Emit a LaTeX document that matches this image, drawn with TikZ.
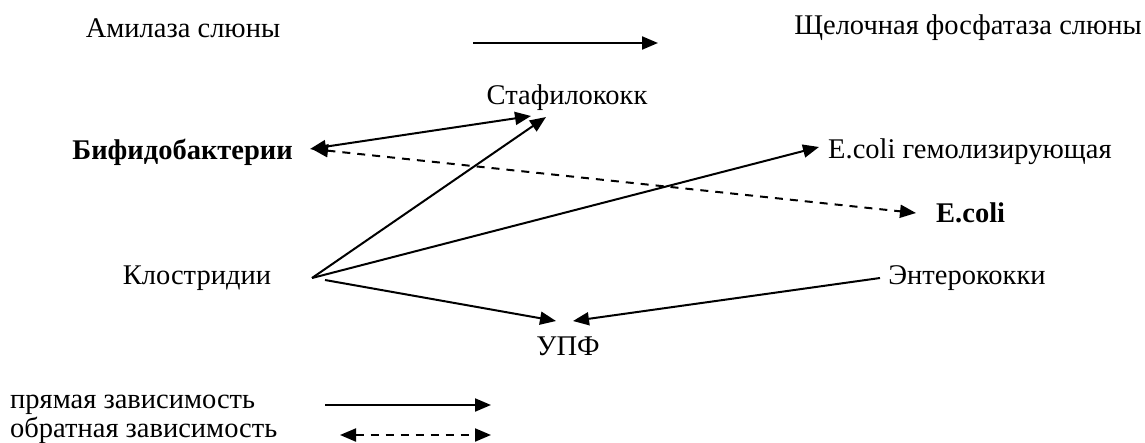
\documentclass[tikz,border=0pt]{standalone}
\usepackage{fontspec}
\setmainfont{Liberation Serif}
\usetikzlibrary{arrows.meta}
\begin{document}
\begin{tikzpicture}[x=1pt,y=-1pt,
  lbl/.style={font=\fontsize{28.5}{32}\selectfont, inner sep=0pt},
  blbl/.style={lbl, font=\fontsize{28.5}{32}\selectfont\bfseries},
  link/.style={line width=2pt, -{Triangle[length=16pt,width=13pt]}},
  twoway/.style={line width=2pt, {Triangle[length=16pt,width=13pt]}-{Triangle[length=16pt,width=13pt]}},
  inverse/.style={twoway, dash pattern=on 8pt off 7pt}]
\useasboundingbox (0,0) rectangle (1145,442);

% labels
\node[lbl] (amy) at (183,28) {Амилаза слюны};
\node[lbl, anchor=east] (alk) at (1142,28) {Щелочная фосфатаза слюны};
\node[lbl] (staph) at (567,98) {Стафилококк};
\node[blbl, anchor=east] (bifid) at (293,152) {Бифидобактерии};
\node[lbl, anchor=west] (ecolih) at (828,152) {E.coli гемолизирующая};
\node[blbl, anchor=west] (ecoli) at (936,213) {E.coli};
\node[lbl] (clos) at (197,278) {Клостридии};
\node[lbl] (entero) at (967,278) {Энтерококки};
\node[lbl] (upf) at (568,346) {УПФ};
\node[lbl, anchor=west] (ldirect) at (10,405) {прямая зависимость};
\node[lbl, anchor=west] (linverse) at (10,430) {обратная зависимость};

% connector end points
\coordinate (amyE) at (473,43);
\coordinate (alkW) at (658,43);
\coordinate (bifE) at (310,149);
\coordinate (bifE2) at (312,149);
\coordinate (staphSW) at (531,116);
\coordinate (staphS) at (546,117);
\coordinate (closE) at (312,278);
\coordinate (closE2) at (325,280);
\coordinate (ecolihW) at (819,147);
\coordinate (ecoliW) at (916,213);
\coordinate (upfNW) at (556,321);
\coordinate (upfNE) at (573,321);
\coordinate (enteroW) at (880,278);
\coordinate (d1) at (325,405);
\coordinate (d2) at (491,405);
\coordinate (i1) at (340,435);
\coordinate (i2) at (491,435);

% links
\draw[link] (amyE) -- (alkW);
\draw[twoway] (bifE) -- (staphSW);
\draw[inverse] (bifE2) -- (ecoliW);
\draw[link] (closE) -- (staphS);
\draw[link] (closE) -- (ecolihW);
\draw[link] (closE2) -- (upfNW);
\draw[link] (enteroW) -- (upfNE);

% legend
\draw[link] (d1) -- (d2);
\draw[inverse] (i1) -- (i2);
\end{tikzpicture}
\end{document}
